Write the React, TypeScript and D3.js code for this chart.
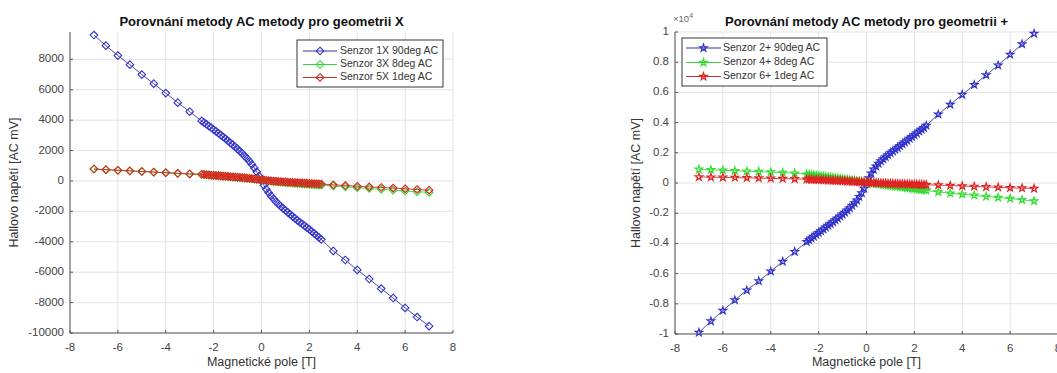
import * as d3 from 'd3';

const W = 1057;
const H = 373;
const FONT = '"Liberation Sans", Arial, Helvetica, sans-serif';

// shared field grid: coarse steps outside ±2.5 T, fine steps inside
const X = [
  -7, -6.5, -6, -5.5, -5, -4.5, -4, -3.5, -3,
  -2.5, -2.4, -2.3, -2.2, -2.1, -2.0, -1.9, -1.8, -1.7, -1.6, -1.5, -1.4, -1.3, -1.2, -1.1,
  -1.0, -0.9, -0.8, -0.7, -0.6, -0.5, -0.4, -0.3, -0.2, -0.1,
  0,
  0.1, 0.2, 0.3, 0.4, 0.5, 0.6, 0.7, 0.8, 0.9, 1.0, 1.1, 1.2, 1.3, 1.4, 1.5,
  1.6, 1.7, 1.8, 1.9, 2.0, 2.1, 2.2, 2.3, 2.4, 2.5,
  3, 3.5, 4, 4.5, 5, 5.5, 6, 6.5, 7,
];

// geometry X [mV]
const S1X = [
  9600, 8900, 8250, 7650, 7000, 6400, 5780, 5150, 4560,
  3950, 3840, 3730, 3610, 3500, 3380, 3260, 3140, 3020, 2900, 2770, 2640, 2510, 2380, 2240,
  2100, 1950, 1800, 1640, 1470, 1290, 1090, 860, 600, 320,
  20,
  -280, -540, -770, -980, -1170, -1350, -1510, -1660, -1800, -1940, -2070, -2200, -2330, -2460, -2590,
  -2710, -2830, -2950, -3070, -3190, -3320, -3450, -3580, -3710, -3850,
  -4600, -5200, -5850, -6450, -7080, -7700, -8350, -8950, -9550,
];
const S3X = [
  780, 740, 700, 660, 620, 580, 540, 500, 460,
  430, 416, 402, 388, 375, 362, 349, 336, 323, 310, 297, 284, 271, 258, 245,
  232, 218, 204, 190, 175, 160, 144, 127, 108, 88,
  65,
  40, 18, -2, -20, -37, -53, -68, -82, -96, -109, -122, -134, -146, -158, -170,
  -181, -192, -203, -214, -225, -236, -247, -258, -270, -282,
  -330, -385, -440, -495, -550, -605, -660, -705, -750,
];
const S5X = [
  790, 745, 705, 665, 625, 585, 545, 505, 465,
  445, 430, 416, 402, 389, 376, 363, 350, 337, 324, 311, 298, 285, 272, 259,
  246, 232, 218, 204, 189, 174, 158, 141, 123, 104,
  84,
  63, 43, 25, 9, -5, -18, -30, -41, -52, -62, -72, -82, -91, -100, -109,
  -118, -127, -136, -145, -154, -163, -172, -181, -190, -200,
  -255, -300, -345, -390, -430, -470, -515, -560, -605,
];

// geometry + [mV]
const S2P = [
  -9900, -9150, -8450, -7750, -7100, -6500, -5850, -5200, -4550,
  -3900, -3780, -3660, -3540, -3420, -3300, -3180, -3060, -2940, -2820, -2700, -2580, -2460, -2340, -2210,
  -2080, -1950, -1810, -1660, -1500, -1330, -1140, -920, -660, -360,
  -30,
  330, 640, 900, 1110, 1290, 1450, 1590, 1720, 1850, 1980, 2100, 2220, 2340, 2460, 2580,
  2700, 2820, 2940, 3060, 3180, 3300, 3420, 3540, 3660, 3800,
  4550, 5200, 5850, 6500, 7150, 7800, 8500, 9200, 9900,
];
const S4P = [
  900, 870, 840, 810, 780, 750, 720, 690, 650,
  580, 560, 540, 519, 498, 477, 456, 435, 414, 393, 372, 351, 330, 309, 288,
  266, 244, 222, 200, 178, 156, 134, 112, 90, 67,
  45,
  22, 0, -22, -44, -66, -88, -110, -131, -152, -173, -194, -215, -236, -257, -278,
  -299, -320, -341, -362, -383, -404, -425, -446, -468, -490,
  -600, -680, -750, -820, -890, -960, -1030, -1110, -1200,
];
const S6P = [
  400, 385, 370, 355, 340, 322, 305, 288, 270,
  250, 243, 236, 229, 222, 215, 208, 200, 192, 184, 176, 168, 160, 152, 144,
  136, 127, 118, 109, 100, 91, 82, 72, 62, 52,
  42,
  32, 23, 14, 6, -2, -10, -17, -24, -31, -37, -43, -49, -55, -61, -66,
  -71, -76, -81, -86, -91, -96, -101, -106, -111, -116,
  -140, -170, -200, -230, -260, -290, -315, -340, -365,
];

const LEGEND_X = ['Senzor 1X 90deg AC', 'Senzor 3X 8deg AC', 'Senzor 5X 1deg AC'];
const LEGEND_P = ['Senzor 2+ 90deg AC', 'Senzor 4+ 8deg AC', 'Senzor 6+ 1deg AC'];
const X_TICKS = [-8, -6, -4, -2, 0, 2, 4, 6, 8];

const COLORS = [
  { line: '#1e1e90', mark: '#3333cc' },
  { line: '#22cc22', mark: '#33dd33' },
  { line: '#c01818', mark: '#e02222' },
];

const diamond = (r: number) => `M0,${-r}L${r},0L0,${r}L${-r},0Z`;
const star = d3.symbol(d3.symbolStar, 17)() as string;

type Box = { x0: number; x1: number; y0: number; y1: number; yDom: [number, number] };
type Leg = { x: number; y: number; w: number; h: number; rows: number[]; lx0: number; lx1: number; tx: number };

function Panel({ box, title, data, names, marker, mw, yTicks, yFmt, leg, ylabX, exp }: {
  box: Box; title: string; data: number[][]; names: string[]; marker: string; mw: number;
  yTicks: number[]; yFmt: (v: number) => string; leg: Leg; ylabX: number; exp?: boolean;
}) {
  const x = d3.scaleLinear().domain([-8, 8]).range([box.x0, box.x1]);
  const y = d3.scaleLinear().domain(box.yDom).range([box.y1, box.y0]);
  const line = d3.line<number>().x((_, i) => x(X[i])).y(v => y(v));
  const cx = (box.x0 + box.x1) / 2;
  const cy = (box.y0 + box.y1) / 2;
  return (
    <g fontFamily={FONT}>
      {/* grid */}
      {X_TICKS.map(t => (
        <line key={'gx' + t} x1={x(t)} x2={x(t)} y1={box.y0} y2={box.y1} stroke="#e3e3e3" />
      ))}
      {yTicks.map(t => (
        <line key={'gy' + t} x1={box.x0} x2={box.x1} y1={y(t)} y2={y(t)} stroke="#e3e3e3" />
      ))}
      {/* series */}
      {data.map((s, k) => (
        <g key={k}>
          <path d={line(s) || ''} fill="none" stroke={COLORS[k].line} strokeWidth={0.8} />
          {s.map((v, i) => (
            <path key={i} d={marker} transform={`translate(${x(X[i])},${y(v)})`}
              fill="none" stroke={COLORS[k].mark} strokeWidth={mw} />
          ))}
        </g>
      ))}
      {/* axes */}
      <line x1={box.x0} x2={box.x0} y1={box.y0} y2={box.y1} stroke="#555" strokeWidth={1} />
      <line x1={box.x0} x2={box.x1} y1={box.y1} y2={box.y1} stroke="#555" strokeWidth={1} />
      {X_TICKS.map(t => (
        <g key={'tx' + t}>
          <line x1={x(t)} x2={x(t)} y1={box.y1} y2={box.y1 - 3} stroke="#555" />
          <text x={x(t)} y={box.y1 + 15} fontSize={11.5} fill="#444" textAnchor="middle" dominantBaseline="middle">{t}</text>
        </g>
      ))}
      {yTicks.map(t => (
        <g key={'ty' + t}>
          <line x1={box.x0} x2={box.x0 + 3} y1={y(t)} y2={y(t)} stroke="#555" />
          <text x={box.x0 - 6} y={y(t)} fontSize={11.5} fill="#444" textAnchor="end" dominantBaseline="middle">{yFmt(t)}</text>
        </g>
      ))}
      {exp && (
        <text x={box.x0 - 2} y={box.y0 - 10} fontSize={9.5} fill="#666">
          ×10<tspan dy={-4} fontSize={7}>4</tspan>
        </text>
      )}
      <text x={cx} y={box.y0 - 6} fontSize={13} fontWeight="bold" fill="#111" textAnchor="middle">{title}</text>
      <text x={cx} y={H - 10} fontSize={12.5} fill="#333" textAnchor="middle" dominantBaseline="middle">Magnetické pole [T]</text>
      <text transform={`translate(${ylabX},${cy}) rotate(-90)`} fontSize={12.5} fill="#333" textAnchor="middle" dominantBaseline="middle">Hallovo napětí [AC mV]</text>
      {/* legend */}
      <rect x={leg.x} y={leg.y} width={leg.w} height={leg.h} fill="#fff" stroke="#222" strokeWidth={0.9} />
      {names.map((n, k) => (
        <g key={n}>
          <line x1={leg.lx0} x2={leg.lx1} y1={leg.rows[k]} y2={leg.rows[k]} stroke={COLORS[k].line} strokeWidth={0.9} />
          <path d={marker} transform={`translate(${(leg.lx0 + leg.lx1) / 2},${leg.rows[k]})`} fill="none" stroke={COLORS[k].mark} strokeWidth={mw} />
          <text x={leg.tx} y={leg.rows[k]} fontSize={10.5} fill="#333" dominantBaseline="middle">{n}</text>
        </g>
      ))}
    </g>
  );
}

export default function App() {
  const leftTicks = d3.range(-10000, 8001, 2000);
  const rightTicks = d3.range(-10000, 10001, 2000);
  return (
    <svg width={W} height={H} style={{ position: 'fixed', left: 0, top: 0, background: '#fff' }}>
      <Panel
        box={{ x0: 70, x1: 453, y0: 32, y1: 333, yDom: [-10000, 9800] }}
        title="Porovnání metody AC metody pro geometrii X"
        data={[S1X, S3X, S5X]} names={LEGEND_X} marker={diamond(3.8)} mw={1.1}
        yTicks={leftTicks} yFmt={v => String(v)}
        leg={{ x: 297, y: 40, w: 146, h: 47, rows: [51, 64.5, 77.5], lx0: 303, lx1: 337, tx: 340 }}
        ylabX={15}
      />
      <Panel
        box={{ x0: 675, x1: 1058, y0: 32, y1: 334, yDom: [-10000, 10000] }}
        title="Porovnání metody AC metody pro geometrii +"
        data={[S2P, S4P, S6P]} names={LEGEND_P} marker={star} mw={1.2}
        yTicks={rightTicks} yFmt={v => String(+(v / 1e4).toFixed(1))}
        leg={{ x: 682, y: 38, w: 145, h: 48, rows: [48, 62.5, 76.5], lx0: 686, lx1: 721, tx: 723 }}
        ylabX={637} exp
      />
    </svg>
  );
}
